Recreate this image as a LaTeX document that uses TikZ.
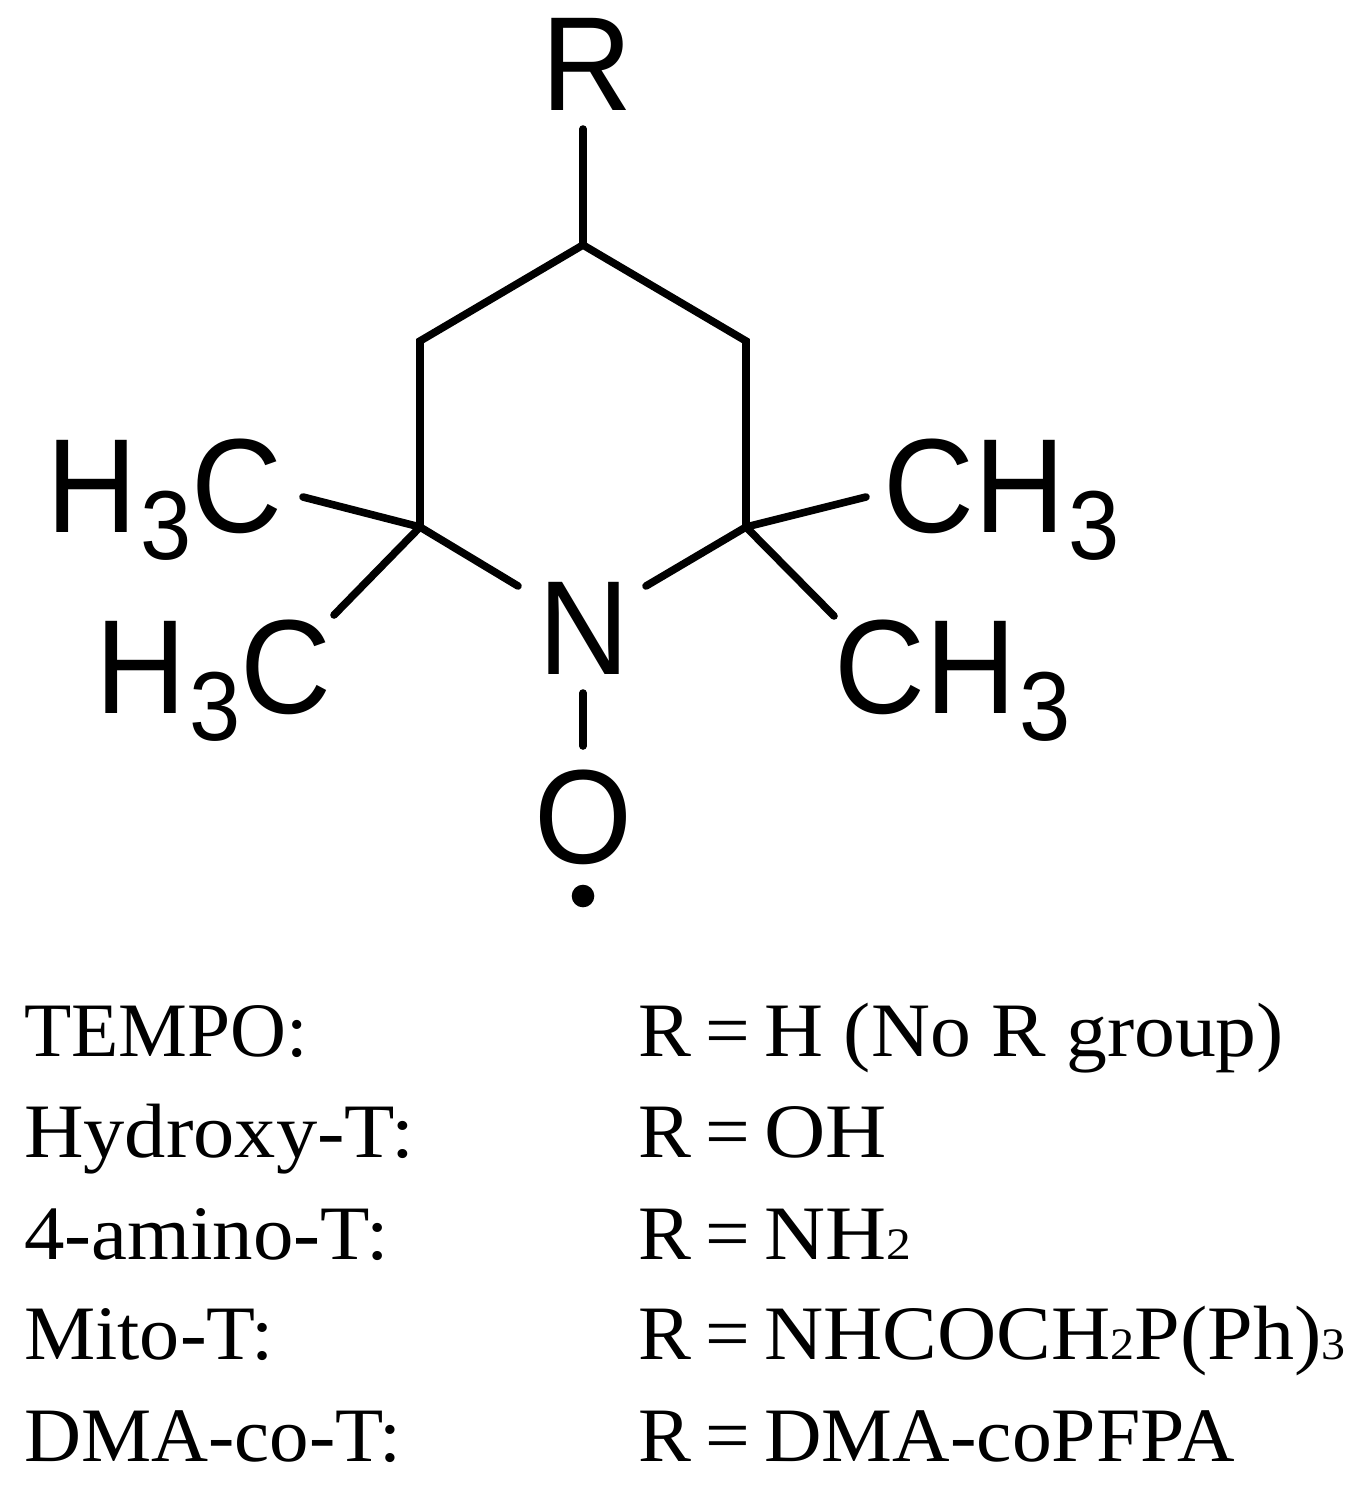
\documentclass[tikz,border=0pt]{standalone}
\usepackage{fontspec}
\usepackage{graphicx}
\setmainfont[FakeStretch=0.94]{Liberation Sans}
\newfontfamily\serifface[FakeStretch=1.03]{Liberation Serif}
\newcommand{\lowsub}[1]{\hspace{3pt}\raisebox{-27pt}{\fontsize{98}{98}\selectfont #1}}
\newcommand{\tsub}[1]{{\fontsize{45}{45}\selectfont #1}}
\newcommand{\req}{R\hspace{14.3pt}=\hspace{14.3pt}}
\tikzset{
  atom/.style={inner sep=0pt,font=\fontsize{134}{134}\selectfont,anchor=base},
  bond/.style={line width=7.6pt,line cap=round,line join=miter,black},
  rowtext/.style={inner sep=0pt,anchor=base west,font=\serifface\fontsize{77}{77}\selectfont},
}
\begin{document}
\begin{tikzpicture}[x=1pt,y=-1pt]
\useasboundingbox (0,0) rectangle (1355,1486);
\node[atom] (R) at (587,110.5) {R};
\node[atom] (N) at (584,674) {N};
\node[atom] (O) at (583,863) {O};
\node[atom,anchor=base east] (LU) at (283,532) {H\lowsub{3}C};
\node[atom,anchor=base east] (LD) at (332,713) {H\lowsub{3}C};
\node[atom,anchor=base west] (RU) at (883,532) {CH\lowsub{3}};
\node[atom,anchor=base west] (RD) at (834,713) {CH\lowsub{3}};
\coordinate (c4) at (583,245);
\coordinate (c3) at (420,341);
\coordinate (c5) at (746,341);
\coordinate (c2) at (420,527);
\coordinate (c6) at (746,527);
\coordinate (rb) at (583,129);
\coordinate (nl) at (518,586);
\coordinate (nr) at (646,586);
\coordinate (no) at (583,693);
\coordinate (oe) at (583,746);
\coordinate (lu) at (303,497);
\coordinate (ld) at (334,615);
\coordinate (ru) at (866,497);
\coordinate (rd) at (834,616);
\draw[bond] (rb) -- (c4);
\draw[bond] (nl) -- (c2) -- (c3) -- (c4) -- (c5) -- (c6) -- (nr);
\draw[bond] (no) -- (oe);
\draw[bond] (c2) -- (lu);
\draw[bond] (c2) -- (ld);
\draw[bond] (c6) -- (ru);
\draw[bond] (c6) -- (rd);
\fill (583,896) circle (11.3);
\foreach \i/\y/\fa/\a/\fb/\b in {
 a/1056/0.976/{TEMPO:}/1.03/{H (No R group)},
 b/1157/1.04/{Hydroxy-T:}/1.07/{OH},
 c/1259/1.02/{4-amino-T:}/1.066/{NH\tsub{2}},
 d/1359/1.01/{Mito-T:}/1.034/{NHCOCH\tsub{2}P(Ph)\tsub{3}},
 e/1461/0.995/{DMA-co-T:}/1.004/{DMA-coPFPA}}{
  \node[rowtext] (l\i) at (24,\y) {\scalebox{\fa}[1]{\a}};
  \node[rowtext] (r\i) at (638,\y) {\req\scalebox{\fb}[1]{\b}};
}
\end{tikzpicture}
\end{document}
